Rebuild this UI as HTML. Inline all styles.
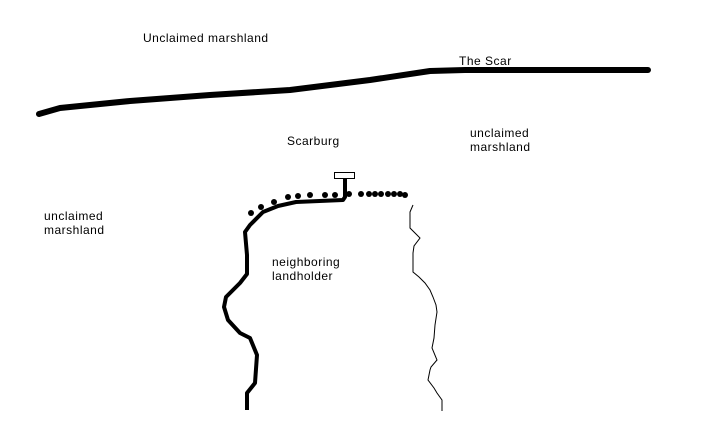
<!DOCTYPE html>
<html><head><style>
body{margin:0;background:#fff;width:715px;height:429px;overflow:hidden}
svg{position:absolute;left:0;top:0}
.t{position:absolute;font-family:"Liberation Sans",sans-serif;font-size:12px;line-height:14px;color:#000;letter-spacing:0.5px}
</style></head><body>
<svg width="715" height="429">
<polyline points="39,114 60,108 130,101 210,95 290,90 370,80 430,71 465,70 555,70 648,70" fill="none" stroke="#000" stroke-width="6" stroke-linecap="round" stroke-linejoin="round"/>
<polyline points="247,410 247,393 255,383 257,355 250,338 240,333 228,320 224,307 226,297 240,283 247,274 247,255 245,232 250,225 263,212 278,206 296,202 343,200 345,197 345,178" fill="none" stroke="#000" stroke-width="4" stroke-linejoin="round"/>
<rect x="334.5" y="172.5" width="20" height="6" fill="#fff" stroke="#000" stroke-width="1"/>
<polyline points="413,205 410,212 410,228 416,234 420,238 414,246 413,253 413,272 419,277 425,283 430,290 433,297 436,305 437,312 435,325 434,338 432,348 437,360 431,367 430,370 428,380 434,388 437,393 442,400 442,411" fill="none" stroke="#000" stroke-width="1"/>
<g fill="#000">
<circle cx="251" cy="213" r="3"/><circle cx="261" cy="207" r="3"/><circle cx="274" cy="202" r="3"/>
<circle cx="288" cy="197" r="3"/><circle cx="298" cy="196" r="3"/><circle cx="310" cy="195" r="3"/>
<circle cx="325" cy="195" r="3"/><circle cx="335" cy="195" r="3"/><circle cx="349" cy="194" r="3"/>
<circle cx="361" cy="194" r="3"/><circle cx="369" cy="194" r="3"/><circle cx="375" cy="194" r="3"/>
<circle cx="381" cy="194" r="3"/><circle cx="388" cy="194" r="3"/><circle cx="394" cy="194" r="3"/>
<circle cx="400" cy="194" r="3"/><circle cx="405" cy="195" r="3"/>
</g>
</svg>
<div class="t" style="left:143px;top:31px">Unclaimed marshland</div>
<div class="t" style="left:459px;top:54px">The Scar</div>
<div class="t" style="left:287px;top:134px">Scarburg</div>
<div class="t" style="left:470px;top:126px">unclaimed<br>marshland</div>
<div class="t" style="left:44px;top:209px">unclaimed<br>marshland</div>
<div class="t" style="left:272px;top:255px">neighboring<br>landholder</div>
</body></html>
